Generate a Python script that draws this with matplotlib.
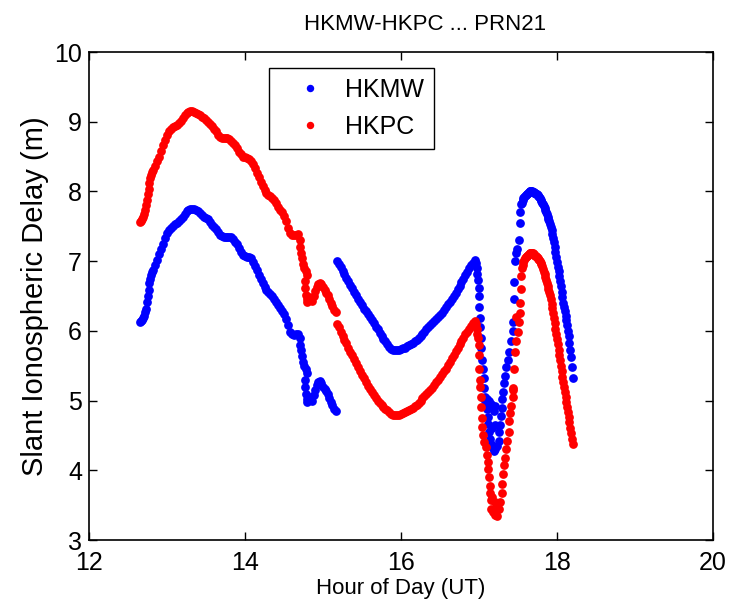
import numpy as np
import matplotlib
matplotlib.use('Agg')
import matplotlib.pyplot as plt

# --- data (hour of day UT, slant delay in metres) ---

# first pass, regular epochs every 0.025 h starting at 12.65
seg_a_start = 12.65
seg_a_step = 0.025
hkmw_seg_a = [6.12, 6.16, 6.22, 6.32, 6.50, 6.68, 6.80, 6.88, 6.95, 7.02,
              7.10, 7.18, 7.25, 7.33, 7.40, 7.45, 7.48, 7.50, 7.53, 7.55,
              7.57, 7.60, 7.64, 7.68, 7.72, 7.74, 7.75, 7.75, 7.75, 7.74,
              7.72, 7.69, 7.66, 7.64, 7.62, 7.60, 7.56, 7.52, 7.49, 7.46,
              7.42, 7.38, 7.36, 7.35, 7.35, 7.35, 7.35, 7.34, 7.32, 7.28,
              7.24, 7.19, 7.13, 7.09, 7.07, 7.06, 7.06, 7.04, 6.99, 6.93,
              6.87, 6.80, 6.74, 6.68, 6.63, 6.59, 6.56, 6.53, 6.50, 6.46,
              6.42, 6.37, 6.33, 6.29, 6.24, 6.17, 6.08, 5.99, 5.95, 5.94,
              5.95, 5.96, 5.90]
hkpc_seg_a = [7.56, 7.60, 7.68, 7.80, 7.96, 8.12, 8.24, 8.31, 8.37, 8.43,
              8.50, 8.58, 8.66, 8.74, 8.81, 8.86, 8.89, 8.92, 8.94, 8.96,
              8.98, 9.01, 9.05, 9.09, 9.12, 9.14, 9.15, 9.15, 9.14, 9.13,
              9.11, 9.09, 9.07, 9.05, 9.03, 9.00, 8.97, 8.94, 8.90, 8.86,
              8.81, 8.78, 8.76, 8.76, 8.76, 8.76, 8.75, 8.73, 8.70, 8.66,
              8.62, 8.57, 8.53, 8.50, 8.49, 8.48, 8.47, 8.44, 8.39, 8.33,
              8.27, 8.20, 8.14, 8.08, 8.02, 7.98, 7.95, 7.93, 7.91, 7.87,
              7.83, 7.78, 7.74, 7.70, 7.65, 7.58, 7.48, 7.40, 7.37, 7.37,
              7.38, 7.39, 7.30]

# extra epochs read on the steep first rise (between the regular ones)
rise_time = [12.6625, 12.6875, 12.7125, 12.7375, 12.7625, 12.7875, 12.8125]
hkmw_rise = [6.14, 6.19, 6.27, 6.41, 6.59, 6.75, 6.84]
hkpc_rise = [7.58, 7.64, 7.74, 7.88, 8.04, 8.19, 8.28]

# noisy stretch before the data gap at ~15.17
noisy_a_time = [14.71, 14.72, 14.73, 14.745, 14.76, 14.78, 14.80, 14.77, 14.775, 14.78,
                14.79, 14.80, 14.82, 14.84, 14.86, 14.88, 14.90, 14.92, 14.94, 14.96,
                14.98, 15.00, 15.02, 15.04, 15.06, 15.08, 15.10, 15.12, 15.14, 15.16]
hkmw_noisy_a = [5.80, 5.72, 5.64, 5.55, 5.50, 5.45, 5.40, 5.30, 5.20, 5.10,
                5.02, 4.98, 5.05, 5.02, 5.00, 5.08, 5.15, 5.22, 5.26, 5.28,
                5.25, 5.20, 5.17, 5.14, 5.10, 5.04, 4.98, 4.93, 4.88, 4.85]
hkpc_noisy_a = [7.20, 7.12, 7.04, 6.96, 6.90, 6.86, 6.80, 6.72, 6.62, 6.52,
                6.45, 6.42, 6.48, 6.44, 6.43, 6.50, 6.57, 6.63, 6.67, 6.69,
                6.67, 6.63, 6.59, 6.55, 6.51, 6.45, 6.40, 6.35, 6.30, 6.27]

# second pass, regular epochs every 0.025 h starting at 15.175
seg_b_start = 15.175
seg_b_step = 0.025
hkmw_seg_b = [7.00, 6.96, 6.91, 6.86, 6.81, 6.76, 6.71, 6.66, 6.61, 6.56,
              6.51, 6.46, 6.41, 6.37, 6.32, 6.28, 6.24, 6.20, 6.15, 6.11,
              6.06, 6.02, 5.97, 5.93, 5.89, 5.85, 5.81, 5.77, 5.74, 5.72,
              5.72, 5.72, 5.73, 5.74, 5.75, 5.76, 5.78, 5.80, 5.81, 5.83,
              5.85, 5.87, 5.90, 5.93, 5.96, 5.99, 6.02, 6.05, 6.08, 6.11,
              6.14, 6.17, 6.20, 6.23, 6.26, 6.30, 6.34, 6.38, 6.42, 6.46,
              6.50, 6.55, 6.60, 6.65, 6.70, 6.75, 6.80, 6.85, 6.90, 6.94,
              6.98, 7.02]
hkpc_seg_b = [6.10, 6.05, 5.99, 5.93, 5.87, 5.82, 5.76, 5.70, 5.65, 5.59,
              5.54, 5.48, 5.43, 5.37, 5.32, 5.26, 5.21, 5.16, 5.12, 5.08,
              5.04, 5.00, 4.97, 4.94, 4.91, 4.88, 4.86, 4.83, 4.81, 4.79,
              4.79, 4.79, 4.80, 4.81, 4.82, 4.83, 4.85, 4.87, 4.88, 4.90,
              4.92, 4.94, 4.97, 5.00, 5.03, 5.06, 5.09, 5.12, 5.15, 5.18,
              5.22, 5.26, 5.30, 5.34, 5.38, 5.42, 5.46, 5.51, 5.56, 5.61,
              5.66, 5.71, 5.76, 5.81, 5.85, 5.90, 5.95, 5.99, 6.03, 6.07,
              6.11, 6.14]

# scintillation trough around 17.0 - 17.55
hkmw_trough_time = [16.96, 16.97, 16.98, 16.99, 16.995, 17.00, 17.005, 17.01, 17.015, 17.02,
                    17.03, 17.035, 17.045, 17.06, 17.07, 17.08, 17.09, 17.10, 17.11, 17.12,
                    17.13, 17.14, 17.15, 17.17, 17.19, 17.21, 17.23, 17.25, 17.26, 17.27,
                    17.28, 17.29, 17.30, 17.31, 17.32, 17.33, 17.35, 17.37, 17.39, 17.41,
                    17.43, 17.44, 17.45, 17.46, 17.47, 17.49, 17.51, 17.52, 17.53, 17.54,
                    17.07, 17.10, 17.13, 17.16, 17.19, 17.21, 17.17, 17.20, 17.45]
hkmw_trough = [6.97, 6.90, 6.82, 6.73, 6.62, 6.50, 6.34, 6.18, 6.05, 5.90,
               5.75, 5.58, 5.45, 5.32, 5.18, 5.05, 4.98, 4.88, 4.76, 4.66,
               4.55, 4.45, 4.38, 4.33, 4.28, 4.30, 4.35, 4.42, 4.55, 4.65,
               4.78, 4.90, 5.02, 5.12, 5.25, 5.35, 5.48, 5.58, 5.70, 5.85,
               6.00, 6.12, 6.70, 7.00, 7.12, 7.18, 7.30, 7.55, 7.70, 7.82,
               5.02, 5.02, 5.00, 4.95, 4.85, 4.92, 4.60, 4.65, 6.45]
hkpc_trough_time = [16.96, 16.97, 16.98, 16.99, 17.00, 17.003, 17.006, 17.01, 17.015, 17.02,
                    17.03, 17.035, 17.04, 17.05, 17.07, 17.09, 17.10, 17.11, 17.12, 17.13,
                    17.14, 17.145, 17.15, 17.16, 17.18, 17.20, 17.23, 17.25, 17.27, 17.29,
                    17.30, 17.31, 17.32, 17.33, 17.34, 17.36, 17.38, 17.39, 17.40, 17.41,
                    17.43, 17.44, 17.45, 17.46, 17.48, 17.50, 17.51, 17.52, 17.53, 17.535,
                    17.54, 17.23, 17.20, 17.17, 17.44, 17.48]
hkpc_trough = [6.10, 6.03, 5.96, 5.90, 5.80, 5.65, 5.46, 5.30, 5.20, 5.05,
               4.91, 4.75, 4.62, 4.50, 4.40, 4.34, 4.22, 4.12, 4.02, 3.90,
               3.78, 3.68, 3.58, 3.45, 3.40, 3.36, 3.35, 3.45, 3.55, 3.68,
               3.80, 3.95, 4.08, 4.18, 4.30, 4.42, 4.55, 4.70, 4.82, 4.92,
               5.05, 5.18, 5.45, 5.70, 5.85, 5.98, 6.12, 6.25, 6.40, 6.60,
               6.78, 3.50, 3.55, 3.62, 5.15, 6.20]

# last arc, regular epochs every 0.01 h starting at 17.55
seg_c_start = 17.55
seg_c_step = 0.01
hkmw_seg_c = [7.83, 7.87, 7.90, 7.92, 7.94, 7.95, 7.96, 7.97, 7.98, 7.99,
              8.00, 8.00, 8.00, 8.00, 7.99, 7.99, 7.98, 7.98, 7.97, 7.96,
              7.95, 7.94, 7.92, 7.90, 7.88, 7.86, 7.84, 7.82, 7.79, 7.76,
              7.73, 7.70, 7.67, 7.64, 7.60, 7.57, 7.53, 7.49, 7.44, 7.39,
              7.33, 7.27, 7.20, 7.13, 7.06, 6.99, 6.92, 6.86, 6.79, 6.72,
              6.64, 6.56, 6.48, 6.40, 6.34, 6.28, 6.22, 6.15, 6.08, 6.00,
              5.92, 5.82, 5.72, 5.62, 5.48, 5.32]
hkpc_seg_c = [6.90, 6.95, 6.99, 7.02, 7.04, 7.06, 7.07, 7.08, 7.09, 7.10,
              7.11, 7.11, 7.11, 7.11, 7.11, 7.10, 7.09, 7.08, 7.07, 7.06,
              7.04, 7.03, 7.01, 7.00, 6.98, 6.96, 6.93, 6.89, 6.85, 6.81,
              6.77, 6.73, 6.69, 6.65, 6.60, 6.56, 6.51, 6.45, 6.39, 6.33,
              6.26, 6.19, 6.11, 6.03, 5.95, 5.88, 5.81, 5.73, 5.66, 5.58,
              5.50, 5.42, 5.34, 5.26, 5.19, 5.12, 5.05, 4.98, 4.91, 4.84,
              4.77, 4.69, 4.61, 4.53, 4.45, 4.37]

x_ticks = [12, 14, 16, 18, 20]
y_ticks = [3, 4, 5, 6, 7, 8, 9, 10]


def epochs(start, step, values):
    # regular GPS epochs for a list of samples
    return start + step * np.arange(len(values))


def join(*parts):
    t = np.concatenate([np.asarray(p[0], dtype=float) for p in parts])
    v = np.concatenate([np.asarray(p[1], dtype=float) for p in parts])
    return t, v


hkmw_t, hkmw_v = join(
    (epochs(seg_a_start, seg_a_step, hkmw_seg_a), hkmw_seg_a),
    (rise_time, hkmw_rise),
    (noisy_a_time, hkmw_noisy_a),
    (epochs(seg_b_start, seg_b_step, hkmw_seg_b), hkmw_seg_b),
    (hkmw_trough_time, hkmw_trough),
    (epochs(seg_c_start, seg_c_step, hkmw_seg_c), hkmw_seg_c),
)
hkpc_t, hkpc_v = join(
    (epochs(seg_a_start, seg_a_step, hkpc_seg_a), hkpc_seg_a),
    (rise_time, hkpc_rise),
    (noisy_a_time, hkpc_noisy_a),
    (epochs(seg_b_start, seg_b_step, hkpc_seg_b), hkpc_seg_b),
    (hkpc_trough_time, hkpc_trough),
    (epochs(seg_c_start, seg_c_step, hkpc_seg_c), hkpc_seg_c),
)

plt.rcParams['font.family'] = ['Liberation Sans', 'DejaVu Sans']

fig = plt.figure(figsize=(7.34, 6.09), dpi=100)
ax = fig.add_axes([0.1213, 0.1133, 0.8501, 0.8013])

ax.plot(hkmw_t, hkmw_v, linestyle='none', marker='o', markersize=6.3,
        markeredgewidth=0, color='#0000ff', label='HKMW')
ax.plot(hkpc_t, hkpc_v, linestyle='none', marker='o', markersize=6.3,
        markeredgewidth=0, color='#ff0000', label='HKPC')

ax.set_xlim(12, 20)
ax.set_ylim(3, 10)
ax.set_xticks(x_ticks)
ax.set_yticks(y_ticks)
ax.tick_params(direction='in', top=True, right=True, length=6, width=1,
               labelsize=18)
ax.tick_params(axis='x', pad=8)
ax.tick_params(axis='y', pad=5)
for spine in ax.spines.values():
    spine.set_linewidth(1.2)

ax.set_title('HKMW-HKPC ... PRN21', fontsize=16, x=0.538, pad=16)
ax.set_xlabel('Hour of Day (UT)', fontsize=16, labelpad=2)
ax.set_ylabel('Slant Ionospheric Delay (m)', fontsize=21, labelpad=4)

leg = ax.legend(loc='upper left', bbox_to_anchor=(0.288, 0.967), borderaxespad=0,
                fontsize=18, markerscale=0.85, handlelength=2.5, handletextpad=0.15,
                borderpad=0.4, labelspacing=0.5, fancybox=False, framealpha=1)
leg.get_frame().set_edgecolor('black')
leg.get_frame().set_linewidth(1.0)

plt.savefig('out.png', dpi=100)
plt.close()
